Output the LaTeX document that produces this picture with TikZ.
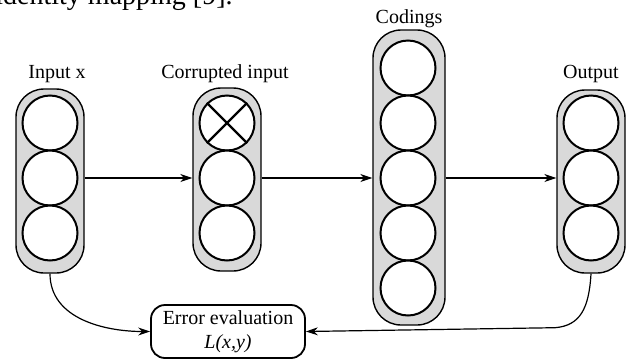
\documentclass[tikz,border=0pt]{standalone}
\usepackage{fontspec}
\setmainfont{Liberation Serif}
\usetikzlibrary{arrows.meta}
\definecolor{layergray}{RGB}{217, 217, 217}

\begin{document}
\begin{tikzpicture}[x=0.5pt, y=-0.5pt,
		layer/.style={draw, line width=0.7pt, fill=layergray, rounded corners=14pt, minimum width=34pt},
		unit/.style={circle, draw, line width=1pt, fill=white, minimum size=27.5pt, inner sep=0pt},
		arr/.style={-{Stealth[length=6pt, width=4pt]}, line width=0.6pt},
		lbl/.style={anchor=base, font=\fontsize{10pt}{12pt}\selectfont}]
	\useasboundingbox (0,0) rectangle (627,360);
	% end of the sentence above the figure
	\node[anchor=base east, inner xsep=0pt, font=\fontsize{14pt}{16pt}\selectfont] (prev) at (233,4) {identity mapping [9].};
	% layers
	\node[layer, minimum height=92pt] (in) at (50,181) {};
	\node[layer, minimum height=91.5pt] (cor) at (227,179.5) {};
	\node[layer, minimum width=36pt, minimum height=147.5pt] (cod) at (409,177.5) {};
	\node[layer, minimum height=91.5pt] (out) at (591,181.5) {};
	\foreach \i in {1,...,3} {
		\node[unit] (in\i) at (50,{68+55*\i}) {};
		\node[unit] (cor\i) at (227,{68+55*\i}) {};
		\node[unit] (out\i) at (591,{68+55*\i}) {};
	}
	\foreach \i in {1,...,5} {
		\node[unit] (cod\i) at (408,{13+55*\i}) {};
	}
	% dropped unit
	\draw[line width=1.2pt] (cor1.45) -- (cor1.225) (cor1.135) -- (cor1.-45);
	% titles
	\node[lbl] (tin) at (57,78) {Input x};
	\node[lbl] (tcor) at (225,78) {Corrupted input};
	\node[lbl] (tcod) at (409,23) {Codings};
	\node[lbl] (tout) at (591,78) {Output};
	% loss
	\node[draw, line width=0.9pt, rounded corners=7pt, minimum width=77pt, minimum height=26.5pt, align=center, inner sep=0pt, font=\fontsize{10pt}{12pt}\selectfont] (err) at (228,331.5) {Error evaluation\\\textit{L(x,y)}};
	\draw[arr] (in2 -| in.east) -- (cor2 -| cor.west);
	\draw[arr] (cor2 -| cor.east) -- (cod3 -| cod.west);
	\draw[arr] (cod3 -| cod.east) -- (out2 -| out.west);
	\draw[arr] (in.south) to[out=-90, in=180] (err.west);
	\draw[arr] (out.south) .. controls +(-2,35) and +(25,-2) .. +(-36,54) -- (err.east);
\end{tikzpicture}
\end{document}
